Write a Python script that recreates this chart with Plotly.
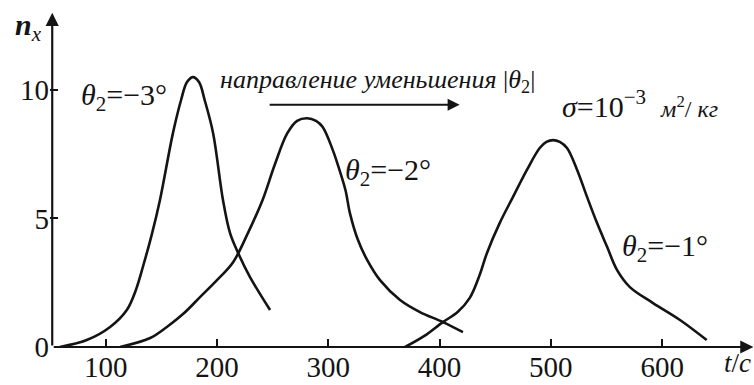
import plotly.graph_objects as go

# Time axis (s) and particle count n_x for three values of theta_2
t_m3 = [59, 83, 104, 119, 127, 134, 141.6, 148.8, 160.5, 167.7, 173, 178.5, 184, 189, 196.5, 205.4, 211.7, 219, 229.7, 247.7]
n_m3 = [0, 0.27, 0.78, 1.44, 2.2, 3.2, 4.4, 5.72, 8.33, 9.6, 10.3, 10.5, 10.3, 9.6, 8.33, 5.72, 4.44, 3.66, 2.72, 1.44]

t_m2 = [113, 140, 155, 170, 185, 200, 214.5, 228, 241, 252, 263, 272, 281, 289, 295, 304, 310, 315.5, 319.5, 326.7, 334.8, 346.5, 364.5, 382.4, 403, 421]
n_m2 = [0, 0.35, 0.78, 1.3, 1.95, 2.6, 3.3, 4.45, 5.72, 7.1, 8.3, 8.8, 8.9, 8.8, 8.56, 7.67, 6.9, 6.1, 5.2, 4.16, 3.4, 2.6, 1.83, 1.36, 0.97, 0.58]

t_m1 = [369, 386, 403, 416, 427, 436, 442.6, 454, 466, 478.6, 490, 496, 502, 508, 514.5, 523.5, 532.5, 541.5, 550.5, 559.4, 571, 591.8, 616, 640]
n_m1 = [0, 0.42, 0.97, 1.35, 1.9, 2.8, 3.66, 4.82, 5.84, 6.9, 7.74, 7.98, 8.05, 7.98, 7.74, 6.9, 5.84, 4.82, 3.9, 3.0, 2.33, 1.71, 1.05, 0.27]

x_ticks = [100, 200, 300, 400, 500, 600]
y_ticks = [0, 5, 10]

FONT = "Liberation Serif"
INK = "#141414"

fig = go.Figure()
for tx, ny in [(t_m3, n_m3), (t_m2, n_m2), (t_m1, n_m1)]:
    fig.add_trace(go.Scatter(x=tx, y=ny, mode="lines",
                             line=dict(color=INK, width=2.6, shape="spline", smoothing=1.0),
                             showlegend=False, hoverinfo="skip"))

X0, X1 = 50, 682.5
Y0, Y1 = 0, 13.5
AX_X = 52

fig.update_layout(
    width=754, height=385,
    margin=dict(l=50, r=0, t=0, b=38),
    paper_bgcolor="white", plot_bgcolor="white",
    xaxis=dict(range=[X0, X1], tickvals=x_ticks, ticks="inside", ticklen=8,
               tickwidth=1.5, tickcolor=INK, showgrid=False, zeroline=False,
               showline=False, tickfont=dict(family=FONT, size=29, color=INK)),
    yaxis=dict(range=[Y0, Y1], tickvals=y_ticks, ticks="inside", ticklen=8,
               tickwidth=1.5, tickcolor=INK, showgrid=False, zeroline=False,
               showline=False, tickfont=dict(family=FONT, size=29, color=INK)),
)

# Axis lines with arrowheads
fig.add_annotation(x=X1 - 0.5, y=0, ax=AX_X, ay=0, xref="x", yref="y", axref="x", ayref="y",
                   showarrow=True, arrowhead=2, arrowsize=1.2, arrowwidth=2.2, arrowcolor=INK, text="")
fig.add_annotation(x=AX_X, y=13.0, ax=AX_X, ay=0, xref="x", yref="y", axref="x", ayref="y",
                   showarrow=True, arrowhead=2, arrowsize=1.2, arrowwidth=2.2, arrowcolor=INK, text="")

# Direction arrow
fig.add_annotation(x=418, y=9.42, ax=246, ay=9.42, xref="x", yref="y", axref="x", ayref="y",
                   showarrow=True, arrowhead=2, arrowsize=1.2, arrowwidth=2, arrowcolor=INK, text="")

def label(text, x, y, size=30, xref="x", yref="y"):
    fig.add_annotation(x=x, y=y, xref=xref, yref=yref, text=text, showarrow=False,
                       xanchor="left", yanchor="middle",
                       font=dict(family=FONT, size=size, color=INK))

label("<i>θ</i><sub>2</sub>=−3°", 76, 9.73)
label("<i>θ</i><sub>2</sub>=−2°", 313, 6.8)
label("<i>θ</i><sub>2</sub>=−1°", 562, 3.85)
label("<i>направление уменьшения </i>|<i>θ</i><sub>2</sub>|", 201, 10.35, size=26)
label("<i>σ</i>=10<sup>−3</sup>  <span style='font-size:24px'><i>м</i><sup>2</sup>/ <i>кг</i></span>",
      508, 9.45)
label("<b><i>n</i></b><sub><i>x</i></sub>", -0.053, 0.922, size=30, xref="paper", yref="paper")
label("<i>t</i>/<i>c</i>", 0.955, -0.045, size=27, xref="paper", yref="paper")

fig.write_html("out.html")
